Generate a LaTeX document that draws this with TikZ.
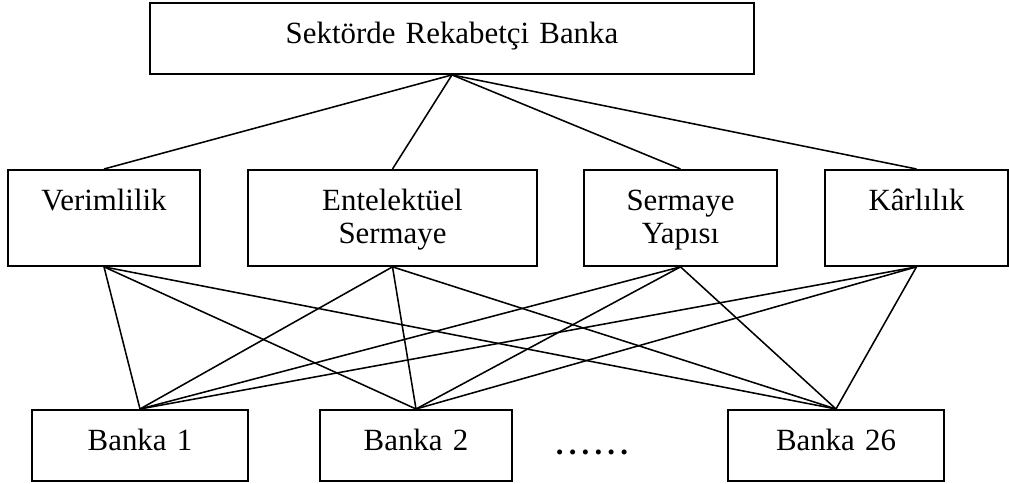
\documentclass[tikz,border=0pt]{standalone}
\usepackage{fontspec}
\setmainfont{Liberation Serif}
\begin{document}
\begin{tikzpicture}[
    x=.3888pt, y=-.3888pt,
    every node/.style={font=\fontsize{12}{12.8}\selectfont},
    kutu/.style={draw,line width=.75pt,inner sep=0pt,anchor=north,
        align=center,text width=#1,text height=15.9pt},
    ustkutu/.style={kutu=#1,text depth=11.7pt},
    ortakutu/.style={kutu=#1,text depth=21.4pt},
    bag/.style={line width=.6pt}]
    \useasboundingbox (0,0) rectangle (1009,484);

    % Amaç ve kriterler.
    \node[ustkutu=235pt] (amac) at (452,2) {Sektörde Rekabetçi Banka};
    \node[ortakutu=74.7pt] (verim) at (104,169) {Verimlilik};
    \node[ortakutu=112.4pt] (entel) at (392.5,169) {Entelektüel\\Sermaye};
    \node[ortakutu=75pt] (sermaye) at (680.5,169) {Sermaye\\Yapısı};
    \node[ortakutu=71.2pt] (karlilik) at (916.5,169) {Kârlılık};

    % Alternatifler.
    \node[ustkutu=84pt] (banka1) at (140,409) {Banka 1};
    \node[ustkutu=74.7pt] (banka2) at (416,409) {Banka 2};
    \node[ustkutu=84pt] (banka26) at (836,409) {Banka 26};
    \node[font=\fontsize{12}{12.8}\selectfont\bfseries] (nokta) at (592,452)
        {.\,.\,.\,.\,.\,.};

    \foreach \k in {verim,entel,sermaye,karlilik} {
        \draw[bag] (amac.south) -- (\k.north);
        \foreach \b in {banka1,banka2,banka26}
            \draw[bag] (\k.south) -- (\b.north);
    }
\end{tikzpicture}
\end{document}
